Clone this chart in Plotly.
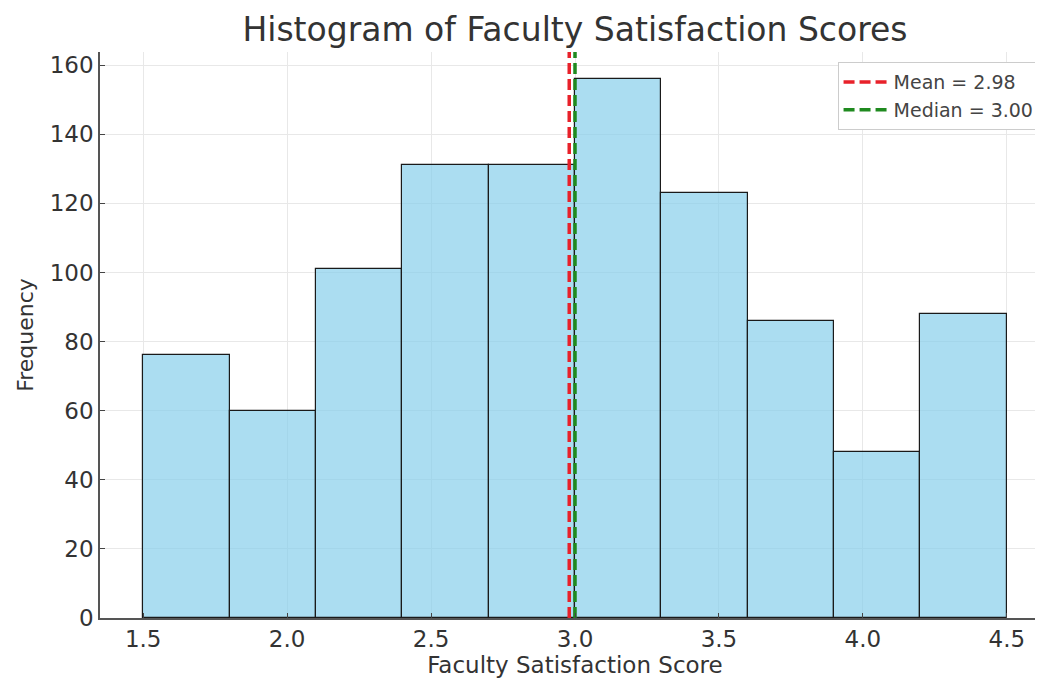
import plotly.graph_objects as go

bin_starts = [1.5, 1.8, 2.1, 2.4, 2.7, 3.0, 3.3, 3.6, 3.9, 4.2]
counts = [76, 60, 101, 131, 131, 156, 123, 86, 48, 88]
bin_width = 0.3
mean_value = 2.98
median_value = 3.00
x_ticks = [1.5, 2.0, 2.5, 3.0, 3.5, 4.0, 4.5]
y_ticks = [0, 20, 40, 60, 80, 100, 120, 140, 160]

ymax = max(counts) * 1.05
x_pad = 0.05 * (bin_starts[-1] + bin_width - bin_starts[0])
font = "DejaVu Sans"

fig = go.Figure()
fig.add_trace(go.Bar(
    x=bin_starts, y=counts, width=[bin_width] * len(counts), offset=0,
    marker=dict(color="rgba(135,206,235,0.7)", line=dict(color="#1a1a1a", width=1.2)),
    showlegend=False, hoverinfo="x+y"))
fig.add_trace(go.Scatter(
    x=[mean_value, mean_value], y=[0, ymax], mode="lines",
    line=dict(color="#e8212a", width=3.5, dash="11px,5px"),
    name=f"Mean = {mean_value:.2f}"))
fig.add_trace(go.Scatter(
    x=[median_value, median_value], y=[0, ymax], mode="lines",
    line=dict(color="#1f8a1f", width=3.5, dash="11px,5px"),
    name=f"Median = {median_value:.2f}"))

fig.update_layout(
    width=1043, height=681,
    margin=dict(l=92, r=1, t=44, b=71),
    paper_bgcolor="white", plot_bgcolor="white",
    font=dict(family=font, color="#333333"),
    title=dict(text="Histogram of Faculty Satisfaction Scores", x=0.5, xref="paper", xanchor="center",
               y=0.968, yref="container", yanchor="middle", font=dict(size=33, color="#333333")),
    bargap=0,
    legend=dict(x=0.989, xanchor="right", y=0.982, yanchor="top",
                bgcolor="white", bordercolor="#cccccc", borderwidth=1,
                font=dict(size=19, color="#444444"), tracegroupgap=2, itemwidth=45),
    xaxis=dict(range=[bin_starts[0] - x_pad, bin_starts[-1] + bin_width + x_pad],
               tickvals=x_ticks, ticktext=[f"{v:.1f}" for v in x_ticks],
               showgrid=True, gridcolor="#e8e8e8", gridwidth=1,
               showline=True, linecolor="#555555", linewidth=1.5, automargin=False,
               ticks="inside", ticklen=5, tickcolor="#444444",
               tickfont=dict(size=23, color="#333333"), zeroline=False,
               title=dict(text="Faculty Satisfaction Score", font=dict(size=23, color="#333333"), standoff=3)),
    yaxis=dict(range=[0, ymax], tickvals=y_ticks,
               showgrid=True, gridcolor="#e8e8e8", gridwidth=1,
               showline=True, linecolor="#555555", linewidth=1.5, automargin=False,
               ticks="inside", ticklen=5, tickcolor="#444444",
               tickfont=dict(size=23, color="#333333"), zeroline=False,
               title=dict(text="Frequency", font=dict(size=22, color="#333333"), standoff=10)),
)

fig.write_html("out.html")
